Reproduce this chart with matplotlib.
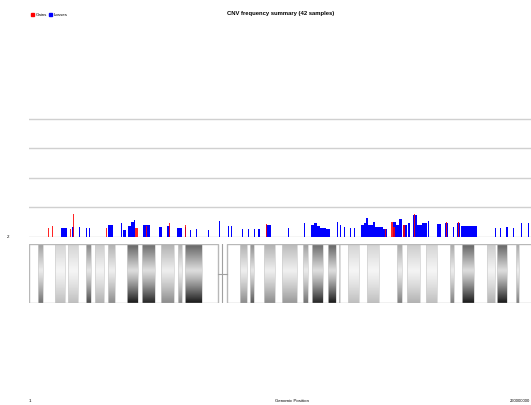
import numpy as np
import matplotlib
matplotlib.use("Agg")
import matplotlib.pyplot as plt
from matplotlib.patches import Rectangle

plt.rcParams['font.family'] = ['Liberation Sans', 'DejaVu Sans']

# --- CNV loss segments (Mb) and frequency (%) ---
loss_start = [16.0, 21.5, 25.0, 28.5, 30.0, 39.5, 46.0, 47.0, 49.5, 51.0, 52.5, 57.0,
              65.0, 69.0, 74.0, 78.0, 80.5, 83.5, 89.5, 95.0, 99.5, 101.0, 106.5, 109.5,
              112.5, 114.5, 118.5, 129.5, 137.5, 141.0, 142.5, 144.0, 145.5, 148.5, 154.0,
              155.5, 157.5, 160.5, 162.5, 166.0, 167.5, 168.5, 169.5, 172.0, 173.0, 177.0,
              182.0, 183.5, 185.0, 187.0, 189.5, 192.0, 194.0, 196.5, 199.5, 204.0, 208.0,
              212.0, 214.0, 216.0, 233.0, 235.5, 238.5, 242.0, 246.0, 249.5]
loss_end = [19.0, 22.5, 25.5, 29.0, 30.5, 42.0, 46.5, 48.5, 51.0, 52.5, 53.0, 60.5,
            66.5, 70.5, 76.5, 78.5, 81.0, 84.0, 90.0, 95.5, 100.0, 101.5, 107.0, 110.0,
            113.0, 115.5, 121.0, 130.0, 138.0, 142.5, 144.0, 145.5, 148.5, 150.5, 154.5,
            156.0, 158.0, 161.0, 163.0, 167.5, 168.5, 169.5, 172.0, 173.0, 177.0, 179.0,
            183.5, 185.0, 186.5, 189.0, 190.5, 194.0, 196.5, 199.0, 200.0, 206.0, 209.5,
            212.5, 215.5, 224.0, 233.5, 236.0, 239.5, 242.5, 246.5, 250.0]
loss_freq = [3.1, 3.4, 3.4, 3.1, 3.1, 4.1, 4.7, 2.4, 3.7, 5.1, 5.8, 4.1,
             3.4, 3.7, 3.1, 3.4, 2.4, 2.7, 2.4, 5.4, 3.7, 3.7, 2.7, 2.7,
             2.7, 2.7, 4.1, 3.1, 4.7, 4.1, 4.7, 3.7, 3.1, 2.7, 5.1,
             4.1, 3.4, 3.1, 3.1, 4.1, 4.7, 6.4, 4.1, 5.1, 3.4, 2.7,
             5.1, 4.1, 6.1, 4.1, 4.7, 7.5, 4.1, 4.7, 5.4, 4.4, 4.7,
             3.4, 4.7, 3.7, 3.1, 3.1, 3.4, 3.1, 4.7, 4.7]

# --- CNV gain segments (Mb) and frequency (%) ---
gain_start = [9.5, 11.5, 20.5, 22.0, 38.5, 53.0, 58.5, 70.0, 78.0, 118.5, 178.0,
              181.0, 182.0, 187.0, 192.5, 208.5, 214.5]
gain_end = [10.0, 12.0, 21.0, 22.5, 39.0, 54.5, 59.0, 70.5, 78.5, 119.0, 178.5,
            182.0, 183.0, 188.0, 193.0, 209.0, 215.0]
gain_freq = [3.1, 3.7, 2.7, 7.8, 3.1, 3.1, 3.7, 4.7, 4.1, 4.4, 2.7,
             5.1, 3.4, 4.1, 7.8, 5.1, 5.1]

# --- chromosome ideogram ---
p_arm = (0.0, 94.5)
q_arm = (99.0, 262.0)
centromere = 96.3
band_start = [4.5, 13.0, 19.5, 28.5, 33.0, 39.5, 49.0, 56.5, 66.0, 74.5, 78.0,
              105.5, 110.5, 117.5, 126.5, 137.0, 141.5, 149.5, 155.0, 159.5, 169.0,
              184.0, 189.0, 198.5, 210.5, 216.5, 229.0, 234.0, 243.5]
band_end = [7.0, 18.0, 24.5, 31.0, 37.5, 43.0, 54.5, 63.0, 72.5, 76.5, 86.5,
            109.0, 112.5, 123.0, 134.0, 139.5, 147.0, 153.5, 155.5, 165.0, 175.0,
            186.5, 195.5, 204.0, 212.5, 222.5, 233.0, 239.0, 245.0]
band_stain = [0.55, 0.25, 0.25, 0.7, 0.3, 0.45, 0.9, 0.85, 0.45, 0.45, 0.9,
              0.45, 0.65, 0.45, 0.4, 0.55, 0.85, 0.9, 0.5, 0.25, 0.25,
              0.5, 0.3, 0.25, 0.5, 0.9, 0.3, 0.9, 0.5]

title = "CNV frequency summary (42 samples)"
x_start_label = "1"
x_end_label = "260000000"
x_axis_label = "Genomic Position"

W, H = 531, 405
fig = plt.figure(figsize=(W / 100, H / 100), dpi=100)
fig.patch.set_facecolor("white")

xmin, xmax = 0.0, 251.0

# frequency panel
ax = fig.add_axes([29 / W, 1 - 237 / H, 1 - 29 / W, 133 / H])
ax.set_xlim(xmin, xmax)
ax.set_ylim(0, 45)
for g in [0, 10, 20, 30, 40]:
    ax.axhline(g, color="#d0d0d0", lw=1.0, zorder=0)
ls = np.array(loss_start)
ax.bar(ls, loss_freq, width=np.array(loss_end) - ls, bottom=0, align="edge",
       color="#0000ff", linewidth=0, zorder=2)
gs = np.array(gain_start)
ax.bar(gs, gain_freq, width=np.array(gain_end) - gs, bottom=0, align="edge",
       color="#ff0000", linewidth=0, alpha=0.85, zorder=3)
ax.axis("off")

# ideogram panel
ai = fig.add_axes([29 / W, 1 - 303 / H, 1 - 29 / W, 59 / H])
ai.set_xlim(xmin, xmax)
ai.set_ylim(0, 1)
ai.axis("off")

t = np.linspace(0, 1, 64)
shade = np.where(t < 0.45,
                 0.15 + 0.55 * ((0.45 - t) / 0.45),
                 0.15 + 0.85 * (np.clip(t - 0.45, 0, None) / 0.55) ** 1.2)
for s, e, d in zip(band_start, band_end, band_stain):
    lum = 1 - d * shade
    img = np.repeat(lum[:, None], 2, axis=1)
    ai.imshow(img, extent=(s, e, 0, 1), cmap="gray", vmin=0, vmax=1,
              aspect="auto", interpolation="bilinear", zorder=1)
    ai.add_patch(Rectangle((s, 0), e - s, 1, fill=False, edgecolor="#cfcfcf",
                           lw=0.5, zorder=2))
for a0, a1 in (p_arm, q_arm):
    ai.add_patch(Rectangle((a0, 0), a1 - a0, 1, fill=False, edgecolor="#b8b8b8",
                           lw=1.0, zorder=3, clip_on=True))
ai.plot([centromere, centromere], [0, 1], color="#a0a0a0", lw=0.8, zorder=3)
ai.plot([p_arm[1], q_arm[0]], [0.5, 0.5], color="#a0a0a0", lw=0.8, zorder=3)
ai.set_xlim(xmin, xmax)
ai.set_ylim(0, 1)

# texts
fig.text(281 / W, 1 - 13 / H, title, ha="center", va="center",
         fontsize=4.2, fontweight="bold")
fig.patches.append(Rectangle((31 / W, 1 - 16 / H), 3 / W, 3 / H, color="#ff0000",
                             transform=fig.transFigure, figure=fig))
fig.text(35.5 / W, 1 - 14.5 / H, "Gains", fontsize=3.2, va="center", ha="left")
fig.patches.append(Rectangle((49 / W, 1 - 16 / H), 3 / W, 3 / H, color="#0000ff",
                             transform=fig.transFigure, figure=fig))
fig.text(53.5 / W, 1 - 14.5 / H, "Losses", fontsize=3.2, va="center", ha="left")
fig.text(8 / W, 1 - 237 / H, "2", fontsize=3.2, va="center", ha="center")
fig.text(30 / W, 1 - 401 / H, x_start_label, fontsize=3.2, va="center", ha="center")
fig.text(292 / W, 1 - 401 / H, x_axis_label, fontsize=3.2, va="center", ha="center")
fig.text(530 / W, 1 - 401 / H, x_end_label, fontsize=3.0, va="center", ha="right")

fig.savefig("out.png", dpi=100, facecolor="white")
